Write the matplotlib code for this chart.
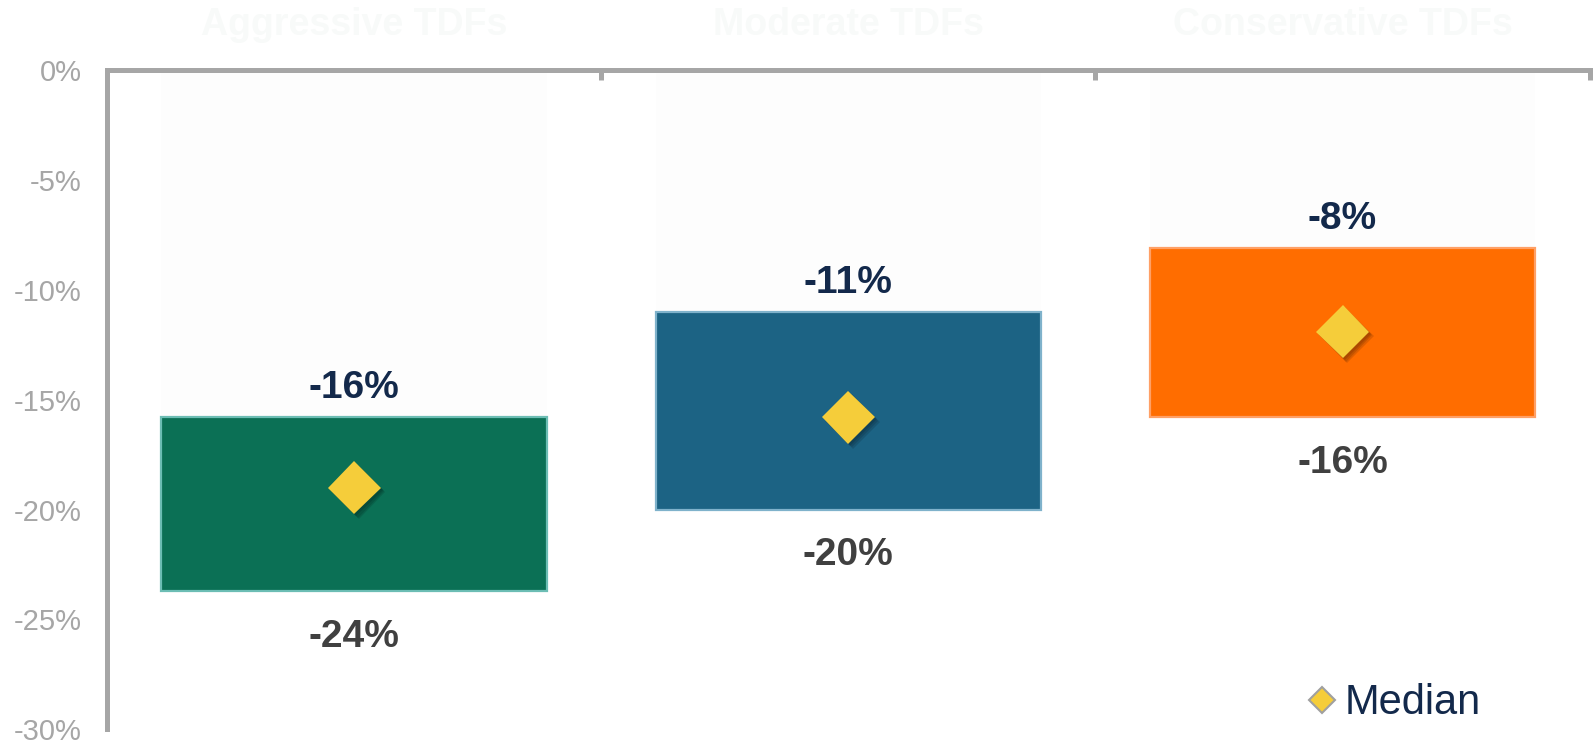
import matplotlib
matplotlib.use("Agg")
import matplotlib.pyplot as plt
import matplotlib.patheffects as pe
from matplotlib.lines import Line2D

plt.rcParams["font.family"] = ["Liberation Sans", "DejaVu Sans"]

# Daten (Werte in Prozent)
categories = ["Aggressive TDFs", "Moderate TDFs", "Conservative TDFs"]
high_values = [-15.8, -11.0, -8.1]
low_values = [-23.7, -20.0, -15.8]
median_values = [-19.0, -15.8, -11.9]
y_ticks = [0, -5, -10, -15, -20, -25, -30]

bar_colors = ["#0b7055", "#1c6384", "#ff6d00"]
edge_colors = ["#6cbdb4", "#7fb2cb", "#ffa066"]
navy = "#13294b"
grey_axis = "#a6a6a6"

fig = plt.figure(figsize=(15.96, 7.45), dpi=100)
ax = fig.add_axes([0.067, 0.021, 0.929, 0.885])

x = list(range(len(categories)))
bar_width = 0.78

# blasse Platzhalter-Saeulen von 0 bis zum oberen Wert
ax.bar(x, high_values, width=bar_width, color="#fdfdfd", zorder=1)

# eigentliche Spannweiten-Balken
heights = [lo - hi for lo, hi in zip(low_values, high_values)]
ax.bar(x, heights, bottom=high_values, width=bar_width, color=bar_colors,
       edgecolor=edge_colors, linewidth=1.6, zorder=2)

# Median-Rauten mit weichem Schatten
shadow = [pe.SimplePatchShadow(offset=(o, -o), alpha=0.12,
                               shadow_rgbFace="black")
          for o in (1.5, 2.5, 3.5)]
ax.plot(x, median_values, linestyle="none", marker="D", markersize=27,
        color="#f5cd3a", markeredgewidth=0, zorder=4,
        path_effects=shadow + [pe.Normal()])

# Beschriftungen oberhalb und unterhalb der Balken
for xi, hi, lo in zip(x, high_values, low_values):
    ax.annotate(f"{round(hi):d}%", (xi, hi), xytext=(0, 21),
                textcoords="offset points", ha="center", va="center",
                fontsize=28, fontweight="bold", color=navy)
    ax.annotate(f"{round(lo):d}%", (xi, lo), xytext=(0, -33),
                textcoords="offset points", ha="center", va="center",
                fontsize=28, fontweight="bold", color="#404040")

# Kategorienamen oben (fast weiss)
for xi, name in zip(x, categories):
    ax.text(xi, 1.068, name, transform=ax.get_xaxis_transform(),
            ha="center", va="center", fontsize=27, fontweight="bold",
            color="#f8faf9", clip_on=False)

ax.set_xlim(-0.5, 2.5)
ax.set_ylim(-30, 0)

ax.xaxis.tick_top()
ax.set_xticks([0.5, 1.5, 2.5])
ax.set_xticklabels([])
ax.tick_params(axis="x", direction="in", length=7, width=3.6,
               color=grey_axis)

ax.set_yticks(y_ticks)
ax.set_yticklabels([f"{v}%" for v in y_ticks])
ax.tick_params(axis="y", length=0, pad=18, labelsize=21,
               labelcolor=grey_axis)

for side in ["right", "bottom"]:
    ax.spines[side].set_visible(False)
for side in ["top", "left"]:
    ax.spines[side].set_color(grey_axis)
    ax.spines[side].set_linewidth(3.6)

handle = Line2D([], [], linestyle="none", marker="D", markersize=13,
                markerfacecolor="#f5cd3a", markeredgecolor="#a0a0a0",
                markeredgewidth=1.5)
leg = fig.legend([handle], ["Median"], loc="center left",
                 bbox_to_anchor=(0.8205, 0.056), frameon=False,
                 fontsize=30, handlelength=0.6, handletextpad=0.25,
                 borderpad=0, borderaxespad=0)
for t in leg.get_texts():
    t.set_color(navy)

fig.savefig("out.png", dpi=100, facecolor="white")
